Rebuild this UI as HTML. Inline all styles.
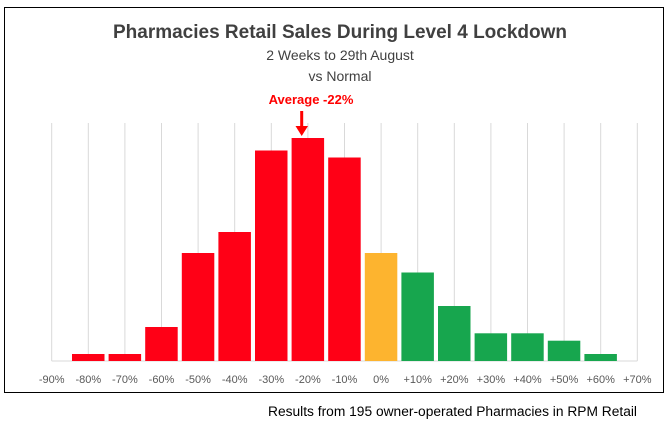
<!DOCTYPE html>
<html><head><meta charset="utf-8"><style>
body{margin:0;background:#fff;width:668px;height:429px;overflow:hidden;font-family:"Liberation Sans",sans-serif}
</style></head><body>
<svg width="668" height="429" xmlns="http://www.w3.org/2000/svg">
<rect x="4.5" y="7.5" width="659" height="385" fill="#fff" stroke="#000" stroke-width="1"/>
<g stroke="#d9d9d9" stroke-width="1">
<line x1="51.7" y1="123" x2="51.7" y2="361"/><line x1="88.3" y1="123" x2="88.3" y2="361"/><line x1="124.9" y1="123" x2="124.9" y2="361"/><line x1="161.5" y1="123" x2="161.5" y2="361"/><line x1="198.1" y1="123" x2="198.1" y2="361"/><line x1="234.7" y1="123" x2="234.7" y2="361"/><line x1="271.3" y1="123" x2="271.3" y2="361"/><line x1="307.9" y1="123" x2="307.9" y2="361"/><line x1="344.5" y1="123" x2="344.5" y2="361"/><line x1="381.1" y1="123" x2="381.1" y2="361"/><line x1="417.7" y1="123" x2="417.7" y2="361"/><line x1="454.3" y1="123" x2="454.3" y2="361"/><line x1="490.9" y1="123" x2="490.9" y2="361"/><line x1="527.5" y1="123" x2="527.5" y2="361"/><line x1="564.1" y1="123" x2="564.1" y2="361"/><line x1="600.7" y1="123" x2="600.7" y2="361"/><line x1="637.3" y1="123" x2="637.3" y2="361"/>
<line x1="51.7" y1="361" x2="637.3" y2="361"/>
</g>
<g fill="#ff0016">
<rect x="72" y="354" width="32.5" height="7"/><rect x="108.6" y="354" width="32.5" height="7"/><rect x="145.2" y="327" width="32.5" height="34"/><rect x="181.8" y="253" width="32.5" height="108"/><rect x="218.4" y="232" width="32.5" height="129"/><rect x="255" y="150.5" width="32.5" height="210.5"/><rect x="291.6" y="138" width="32.5" height="223"/><rect x="328.2" y="157.5" width="32.5" height="203.5"/>
</g>
<rect x="364.8" y="253" width="32.5" height="108" fill="#fdb42f"/>
<g fill="#17a64e">
<rect x="401.4" y="272.5" width="32.5" height="88.5"/><rect x="438" y="306" width="32.5" height="55"/><rect x="474.6" y="333.3" width="32.5" height="27.7"/><rect x="511.2" y="333.3" width="32.5" height="27.7"/><rect x="547.8" y="340.7" width="32.5" height="20.3"/><rect x="584.4" y="354" width="32.5" height="7"/>
</g>
<g font-size="11" fill="#595959" text-anchor="middle">
<text x="51.7" y="383">-90%</text><text x="88.3" y="383">-80%</text><text x="124.9" y="383">-70%</text><text x="161.5" y="383">-60%</text><text x="198.1" y="383">-50%</text><text x="234.7" y="383">-40%</text><text x="271.3" y="383">-30%</text><text x="307.9" y="383">-20%</text><text x="344.5" y="383">-10%</text><text x="381.1" y="383">0%</text><text x="417.7" y="383">+10%</text><text x="454.3" y="383">+20%</text><text x="490.9" y="383">+30%</text><text x="527.5" y="383">+40%</text><text x="564.1" y="383">+50%</text><text x="600.7" y="383">+60%</text><text x="637.3" y="383">+70%</text>
</g>
<text x="340" y="38" text-anchor="middle" font-size="19" font-weight="bold" fill="#404040">Pharmacies  Retail Sales During  Level 4 Lockdown</text>
<text x="340" y="60" text-anchor="middle" font-size="14" fill="#404040">2 Weeks to 29th August</text>
<text x="340" y="81" text-anchor="middle" font-size="14" fill="#404040">vs Normal</text>
<text x="311" y="104" text-anchor="middle" font-size="13" font-weight="bold" fill="#ff0000">Average -22%</text>
<line x1="301.7" y1="111" x2="301.7" y2="128" stroke="#ff0000" stroke-width="3"/>
<polygon points="295.5,126 308,126 301.7,136" fill="#ff0000"/>
<text x="268" y="416" font-size="13.5" fill="#000" textLength="369" lengthAdjust="spacingAndGlyphs">Results from 195 owner-operated Pharmacies in RPM Retail</text>
</svg>
</body></html>
